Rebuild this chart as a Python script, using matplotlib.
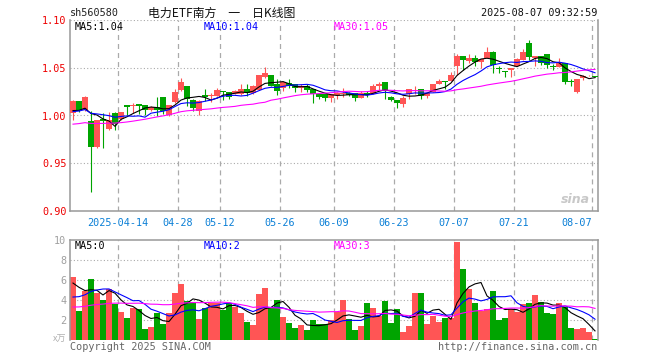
import matplotlib
matplotlib.use('Agg')
import matplotlib.pyplot as plt
import numpy as np
import pandas as pd

# trading days shown (2025-04-01 .. 2025-08-07)
holidays = ['2025-04-04', '2025-05-01', '2025-05-02', '2025-05-05', '2025-06-02']
days = pd.bdate_range('2025-04-01', '2025-08-07')
days = days[~days.isin(pd.to_datetime(holidays))]

tick_dates = ['2025-04-14', '2025-04-28', '2025-05-12', '2025-05-26', '2025-06-09',
              '2025-06-23', '2025-07-07', '2025-07-21', '2025-08-07']
tick_labels = ['2025-04-14', '04-28', '05-12', '05-26', '06-09', '06-23', '07-07', '07-21', '08-07']

open_ = [1.0031, 1.0149, 1.0056, 0.9940, 0.9665, 0.9961, 0.9857, 1.0031, 0.9961, 1.0108,
         1.0098, 1.0117, 1.0108, 1.0059, 1.0087, 1.0192, 1.0003, 1.0139, 1.0262, 1.0314,
         1.0158, 1.0048, 1.0213, 1.0199, 1.0206, 1.0255, 1.0241, 1.0220, 1.0220, 1.0276,
         1.0231, 1.0272, 1.0402, 1.0429, 1.0325, 1.0290, 1.0336, 1.0325, 1.0290, 1.0304,
         1.0276, 1.0220, 1.0220, 1.0185, 1.0216, 1.0223, 1.0234, 1.0234, 1.0188, 1.0234,
         1.0227, 1.0307, 1.0356, 1.0197, 1.0160, 1.0121, 1.0222, 1.0260, 1.0276, 1.0199,
         1.0244, 1.0325, 1.0360, 1.0360, 1.0518, 1.0622, 1.0570, 1.0598, 1.0563, 1.0598,
         1.0668, 1.0497, 1.0460, 1.0476, 1.0518, 1.0581, 1.0756, 1.0598, 1.0622, 1.0640,
         1.0514, 1.0511, 1.0546, 1.0365, 1.0248, 1.0394, 1.0420, 1.0414]
close = [1.0149, 1.0059, 1.0195, 0.9670, 0.9951, 0.9945, 0.9951, 0.9916, 1.0035, 1.0087,
         1.0112, 1.0098, 1.0059, 1.0087, 1.0059, 1.0045, 1.0108, 1.0250, 1.0346, 1.0168,
         1.0081, 1.0153, 1.0196, 1.0212, 1.0265, 1.0241, 1.0195, 1.0255, 1.0276, 1.0231,
         1.0314, 1.0419, 1.0440, 1.0314, 1.0255, 1.0346, 1.0311, 1.0290, 1.0304, 1.0269,
         1.0220, 1.0192, 1.0185, 1.0220, 1.0234, 1.0234, 1.0216, 1.0181, 1.0234, 1.0213,
         1.0314, 1.0325, 1.0260, 1.0164, 1.0126, 1.0186, 1.0276, 1.0270, 1.0206, 1.0234,
         1.0325, 1.0360, 1.0355, 1.0429, 1.0626, 1.0581, 1.0598, 1.0563, 1.0588, 1.0668,
         1.0532, 1.0490, 1.0455, 1.0493, 1.0588, 1.0668, 1.0615, 1.0622, 1.0546, 1.0529,
         1.0503, 1.0563, 1.0353, 1.0353, 1.0377, 1.0418, 1.0428, 1.0407]
high = [1.0160, 1.0154, 1.0205, 1.0042, 0.9951, 1.0031, 1.0035, 1.0035, 1.0040, 1.0110,
        1.0133, 1.0124, 1.0110, 1.0098, 1.0192, 1.0192, 1.0110, 1.0276, 1.0392, 1.0314,
        1.0177, 1.0158, 1.0276, 1.0237, 1.0292, 1.0255, 1.0250, 1.0265, 1.0335, 1.0335,
        1.0318, 1.0419, 1.0503, 1.0429, 1.0381, 1.0360, 1.0381, 1.0325, 1.0325, 1.0335,
        1.0276, 1.0230, 1.0220, 1.0225, 1.0250, 1.0286, 1.0244, 1.0234, 1.0255, 1.0255,
        1.0325, 1.0356, 1.0356, 1.0207, 1.0160, 1.0207, 1.0276, 1.0307, 1.0276, 1.0234,
        1.0335, 1.0377, 1.0360, 1.0455, 1.0649, 1.0622, 1.0649, 1.0638, 1.0588, 1.0716,
        1.0675, 1.0514, 1.0470, 1.0493, 1.0607, 1.0696, 1.0791, 1.0622, 1.0622, 1.0640,
        1.0535, 1.0598, 1.0546, 1.0384, 1.0377, 1.0428, 1.0428, 1.0414]
low = [0.9951, 1.0034, 1.0050, 0.9194, 0.9659, 0.9659, 0.9846, 0.9848, 0.9950, 1.0003,
       1.0031, 1.0020, 1.0003, 1.0045, 0.9996, 1.0013, 0.9996, 1.0129, 1.0255, 1.0098,
       1.0042, 1.0003, 1.0153, 1.0139, 1.0199, 1.0160, 1.0178, 1.0220, 1.0215, 1.0199,
       1.0225, 1.0265, 1.0392, 1.0314, 1.0213, 1.0255, 1.0283, 1.0249, 1.0249, 1.0249,
       1.0136, 1.0178, 1.0153, 1.0143, 1.0174, 1.0192, 1.0202, 1.0153, 1.0181, 1.0192,
       1.0220, 1.0262, 1.0171, 1.0153, 1.0074, 1.0087, 1.0174, 1.0223, 1.0174, 1.0181,
       1.0244, 1.0325, 1.0276, 1.0360, 1.0429, 1.0476, 1.0545, 1.0514, 1.0493, 1.0598,
       1.0446, 1.0443, 1.0399, 1.0407, 1.0518, 1.0581, 1.0586, 1.0514, 1.0528, 1.0493,
       1.0476, 1.0511, 1.0335, 1.0311, 1.0237, 1.0372, 1.0418, 1.0404]
volume = [6.27, 2.87, 4.87, 6.13, 4.67, 3.97, 5.07, 3.57, 2.77, 2.17,
          3.17, 3.07, 1.07, 1.27, 2.67, 1.57, 2.67, 4.67, 5.57, 3.87,
          3.77, 2.07, 3.17, 3.67, 3.67, 2.97, 3.67, 3.27, 2.67, 1.77,
          1.47, 4.57, 5.17, 3.27, 3.97, 2.27, 1.67, 1.17, 1.47, 0.97,
          1.97, 1.60, 1.60, 2.03, 2.77, 4.03, 2.13, 1.03, 1.43, 3.73,
          3.23, 2.43, 3.93, 1.73, 3.13, 0.83, 1.43, 4.73, 4.73, 1.63,
          2.43, 1.83, 2.23, 2.23, 9.83, 7.13, 5.13, 3.73, 2.93, 3.13,
          4.93, 2.03, 2.23, 3.13, 2.83, 3.63, 3.73, 4.53, 3.83, 2.73,
          2.63, 3.73, 3.33, 1.23, 1.13, 1.23, 0.83, 0.13]

# estimated history before the window (only used to seed the moving averages)
prev_close = [0.988, 0.990, 0.993, 0.995, 0.992, 0.989, 0.987, 0.990, 0.988, 0.985,
              0.980, 0.976, 0.972, 0.970, 0.972, 0.975, 0.978, 0.985, 0.990, 0.992,
              1.000, 1.004, 1.006, 1.002, 1.003, 1.005, 1.008, 0.995, 1.003]
prev_volume = [2.6, 3.0, 2.9, 2.5, 2.7, 3.1, 2.8, 2.6, 2.9, 3.0,
               2.7, 2.5, 2.8, 3.0, 2.9, 2.6, 2.8, 3.1, 2.7, 2.8,
               2.5, 3.0, 2.8, 3.2, 3.0, 5.0, 6.5, 5.7, 5.0]

RED = '#ff5555'
GREEN = '#00a400'
GRID = '#aaaaaa'
MONO = 'DejaVu Sans Mono'
plt.rcParams['lines.scale_dashes'] = False

o = np.array(open_); c = np.array(close)
h = np.array(high); l = np.array(low)
v = np.array(volume)
n = len(c)
x = np.arange(n)
colors = np.where(c >= o, RED, GREEN)


def ma(prev, vals, k):
    s = pd.Series(list(prev) + list(vals)).rolling(k).mean().to_numpy()
    return s[len(prev):]


W, H = 660, 360
fig = plt.figure(figsize=(6.6, 3.6), dpi=100)
ax = fig.add_axes([70 / W, 1 - 211 / H, 528 / W, 191 / H])
axv = fig.add_axes([70 / W, 1 - 340 / H, 528 / W, 100 / H])

tick_idx = [days.get_loc(pd.Timestamp(d)) for d in tick_dates]

# price panel
ax.set_xlim(-0.5, n - 0.5)
ax.set_ylim(0.90, 1.10)
for p in [0.95, 1.00, 1.05, 1.10]:
    ax.axhline(p, color=GRID, lw=0.8, ls=(0, (0.8, 1.6)), zorder=0)
for t in tick_idx:
    ax.axvline(t - 0.5, color=GRID, lw=0.9, ls=(0, (3.6, 2.9)), zorder=0)
ax.vlines(x, l, h, colors=colors, lw=0.8, zorder=2)
ax.bar(x, np.maximum(np.abs(c - o), 0.0009), bottom=np.minimum(o, c),
       width=0.84, color=colors, lw=0, zorder=3)
ma5 = ma(prev_close, c, 5)
ma10 = ma(prev_close, c, 10)
ma30 = ma(prev_close, c, 30)
ax.plot(x, ma5, color='black', lw=0.8, zorder=4)
ax.plot(x, ma10, color='#0000ff', lw=0.8, zorder=4)
ax.plot(x, ma30, color='#ff00ff', lw=0.8, zorder=4)

ax.set_yticks([0.90, 0.95, 1.00, 1.05, 1.10])
ax.set_yticklabels(['%.2f' % t for t in [0.90, 0.95, 1.00, 1.05, 1.10]],
                   family=MONO, fontsize=7.3, color='#ee0000')
ax.set_xticks([t - 0.5 for t in tick_idx])
ax.set_xticklabels(tick_labels, family=MONO, fontsize=7.3, color='#0a7fd6')
ax.get_xticklabels()[-1].set_horizontalalignment('right')
ax.tick_params(axis='y', length=0, pad=2.5)
ax.tick_params(axis='x', length=0, pad=5)
for s in ['left', 'right', 'bottom']:
    ax.spines[s].set_color('#999999')
    ax.spines[s].set_linewidth(1.1)
ax.spines['top'].set_visible(False)

ax.text(0.008, 0.965, 'MA5:%.2f' % ma5[-1], transform=ax.transAxes, family=MONO,
        fontsize=7.3, color='black', va='center')
ax.text(0.253, 0.965, 'MA10:%.2f' % ma10[-1], transform=ax.transAxes, family=MONO,
        fontsize=7.3, color='#0000ff', va='center')
ax.text(0.499, 0.965, 'MA30:%.2f' % ma30[-1], transform=ax.transAxes, family=MONO,
        fontsize=7.3, color='#ff00ff', va='center')
ax.text(0.985, 0.06, 'sina', transform=ax.transAxes, fontsize=9, style='italic',
        weight='bold', color='#c8c8c8', ha='right', va='center')

# volume panel
axv.set_xlim(-0.5, n - 0.5)
axv.set_ylim(0, 10)
for p in [2, 4, 6, 8]:
    axv.axhline(p, color=GRID, lw=0.8, ls=(0, (0.8, 1.6)), zorder=0)
for t in tick_idx:
    axv.axvline(t - 0.5, color=GRID, lw=0.9, ls=(0, (3.6, 2.9)), zorder=0)
axv.bar(x, v, width=0.84, color=colors, lw=0, zorder=2)
vma5 = ma(prev_volume, v, 5)
vma10 = ma(prev_volume, v, 10)
vma30 = ma(prev_volume, v, 30)
axv.plot(x, vma5, color='black', lw=0.8, zorder=3)
axv.plot(x, vma10, color='#0000ff', lw=0.8, zorder=3)
axv.plot(x, vma30, color='#ff00ff', lw=0.8, zorder=3)
axv.set_xticks([])
axv.set_yticks([2, 4, 6, 8, 10])
axv.set_yticklabels(['2', '4', '6', '8', '10'], family=MONO, fontsize=7.3, color='#a0a0a0')
axv.tick_params(axis='y', length=0, pad=2.5)
for s in ['left', 'right', 'top']:
    axv.spines[s].set_color('#999999')
    axv.spines[s].set_linewidth(1.1)
axv.spines['bottom'].set_visible(False)

axv.text(0.008, 0.94, 'MA5:%d' % int(vma5[-1]), transform=axv.transAxes, family=MONO,
         fontsize=7.3, color='black', va='center')
axv.text(0.253, 0.94, 'MA10:%d' % int(vma10[-1]), transform=axv.transAxes, family=MONO,
         fontsize=7.3, color='#0000ff', va='center')
axv.text(0.499, 0.94, 'MA30:%d' % int(vma30[-1]), transform=axv.transAxes, family=MONO,
         fontsize=7.3, color='#ff00ff', va='center')

# header / footer
fig.text(70 / W, 1 - 13 / H, 'sh560580', family=MONO, fontsize=7.3, color='#222222', va='center')
fig.text(222 / W, 1 - 13 / H, '电力ETF南方\u3000一\u3000日K线图',
         family=['Noto Sans CJK SC', 'DejaVu Sans'],
         fontsize=8.6, color='#111111', ha='center', va='center')
fig.text(597 / W, 1 - 13 / H, '2025-08-07 09:32:59', family=MONO, fontsize=7.3,
         color='#111111', ha='right', va='center')
fig.text(66 / W, 1 - 339 / H, 'x万', family=['Noto Sans CJK SC', 'DejaVu Sans'], fontsize=6.5,
         color='#b0b0b0', ha='right', va='center')
fig.text(70 / W, 1 - 347 / H, 'Copyright 2025 SINA.COM', family=MONO, fontsize=7.3,
         color='#666666', va='center')
fig.text(597 / W, 1 - 347 / H, 'http://finance.sina.com.cn', family=MONO, fontsize=7.3,
         color='#666666', ha='right', va='center')

fig.savefig('out.png', dpi=100)
